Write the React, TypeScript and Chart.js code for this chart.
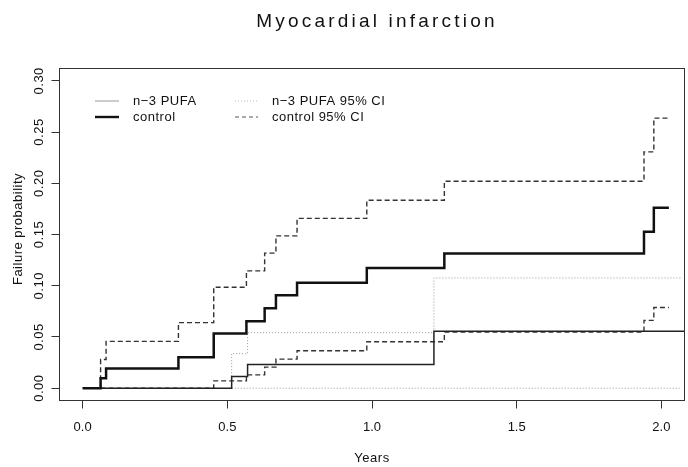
import React, { useEffect, useRef } from "react";
import { Chart, registerables } from "chart.js";

Chart.register(...registerables);

const chartTitle = "Myocardial infarction";
const xAxisTitle = "Years";
const yAxisTitle = "Failure probability";

const xTickValues = [0, 0.5, 1, 1.5, 2];
const xTickLabels = ["0.0", "0.5", "1.0", "1.5", "2.0"];
const yTickValues = [0, 0.05, 0.1, 0.15, 0.2, 0.25, 0.3];
const yTickLabels = ["0.00", "0.05", "0.10", "0.15", "0.20", "0.25", "0.30"];

const seriesNames = ["n\u22123 PUFA", "control", "n\u22123 PUFA 95% CI", "control 95% CI"];

// control (Kaplan-Meier failure curve)
const controlTimes = [0, 0.062, 0.081, 0.331, 0.453, 0.566, 0.629, 0.668, 0.741, 0.982, 1.25, 1.94, 1.974, 2.026];
const controlValues = [0, 0.0098, 0.0193, 0.0303, 0.0535, 0.0653, 0.078, 0.0907, 0.103, 0.1174, 0.1315, 0.1527, 0.1761, 0.1761];

const controlUpperTimes = [0.062, 0.062, 0.081, 0.331, 0.453, 0.566, 0.629, 0.668, 0.741, 0.982, 1.25, 1.94, 1.974, 2.026];
const controlUpperValues = [0, 0.028, 0.0457, 0.064, 0.0985, 0.1145, 0.1318, 0.1487, 0.1657, 0.1834, 0.202, 0.2306, 0.2636, 0.2636];

const controlLowerTimes = [0.062, 0.453, 0.566, 0.629, 0.668, 0.741, 0.982, 1.25, 1.94, 1.974, 2.026];
const controlLowerValues = [0, 0.0072, 0.013, 0.0206, 0.0284, 0.0366, 0.0454, 0.0548, 0.0662, 0.0787, 0.0787];

// n-3 PUFA
const pufaTimes = [0, 0.515, 0.57, 1.214, 2.08];
const pufaValues = [0, 0.0114, 0.0232, 0.0555, 0.0555];

const pufaUpperTimes = [0.515, 0.515, 0.57, 1.214, 2.069];
const pufaUpperValues = [0, 0.0337, 0.0542, 0.1076, 0.1076];

const pufaLowerTimes = [0.515, 2.069];
const pufaLowerValues = [0, 0];

const toPoints = (t: number[], v: number[]) => t.map((x, i) => ({ x, y: v[i] }));

const FONT = "'Liberation Sans', Arial, Helvetica, sans-serif";

const overlayPlugin = {
  id: "overlay",
  afterDraw(chart: any) {
    const ctx: CanvasRenderingContext2D = chart.ctx;
    const { left, right, top, bottom } = chart.chartArea;
    const ys = chart.scales.y;
    ctx.save();
    // box
    ctx.strokeStyle = "#333";
    ctx.lineWidth = 1;
    ctx.setLineDash([]);
    ctx.strokeRect(left, top, right - left, bottom - top);

    ctx.fillStyle = "#111";
    // title
    (ctx as any).letterSpacing = "3.2px";
    ctx.font = `19px ${FONT}`;
    ctx.textAlign = "center";
    ctx.textBaseline = "middle";
    ctx.fillText(chartTitle, 377, 22);

    // axis titles
    (ctx as any).letterSpacing = "0.5px";
    ctx.font = `13px ${FONT}`;
    ctx.fillText(xAxisTitle, (left + right) / 2, 458);
    ctx.save();
    ctx.translate(18, 229);
    ctx.rotate(-Math.PI / 2);
    ctx.fillText(yAxisTitle, 0, 0);
    ctx.restore();

    // y tick labels (rotated like R)
    yTickValues.forEach((v, i) => {
      const py = ys.getPixelForValue(v);
      ctx.save();
      ctx.translate(39, py);
      ctx.rotate(-Math.PI / 2);
      ctx.fillText(yTickLabels[i], 0, 0);
      ctx.restore();
    });

    // legend
    const rows = [101, 117];
    const legendItems = [
      { col: 0, row: 0, text: seriesNames[0], color: "#9a9a9a", width: 1, dash: [] as number[] },
      { col: 0, row: 1, text: seriesNames[1], color: "#111", width: 2.4, dash: [] as number[] },
      { col: 1, row: 0, text: seriesNames[2], color: "#bbb", width: 1, dash: [1, 2] },
      { col: 1, row: 1, text: seriesNames[3], color: "#555", width: 1, dash: [4, 3] },
    ];
    const cols = [
      { x0: 95, x1: 119, tx: 133 },
      { x0: 235, x1: 258, tx: 272 },
    ];
    ctx.textAlign = "left";
    legendItems.forEach((it) => {
      const c = cols[it.col];
      const y = rows[it.row];
      ctx.beginPath();
      ctx.strokeStyle = it.color;
      ctx.lineWidth = it.width;
      ctx.setLineDash(it.dash);
      ctx.moveTo(c.x0, y);
      ctx.lineTo(c.x1, y);
      ctx.stroke();
      ctx.setLineDash([]);
      ctx.fillStyle = "#111";
      ctx.fillText(it.text, c.tx, y);
    });
    ctx.restore();
  },
};

export default function App() {
  const canvasRef = useRef<HTMLCanvasElement | null>(null);

  useEffect(() => {
    if (!canvasRef.current) return;
    const chart = new Chart(canvasRef.current, {
      type: "line",
      data: {
        datasets: [
          {
            label: seriesNames[1],
            data: toPoints(controlTimes, controlValues),
            borderColor: "#111",
            borderWidth: 2.5,
            stepped: "before",
            pointRadius: 0,
            fill: false,
          },
          {
            label: seriesNames[0],
            data: toPoints(pufaTimes, pufaValues),
            borderColor: "#222",
            borderWidth: 1.5,
            stepped: "before",
            pointRadius: 0,
            fill: false,
          },
          {
            label: seriesNames[3] + " upper",
            data: toPoints(controlUpperTimes, controlUpperValues),
            borderColor: "#333",
            borderWidth: 1.4,
            borderDash: [5, 3],
            stepped: "before",
            pointRadius: 0,
            fill: false,
          },
          {
            label: seriesNames[3] + " lower",
            data: toPoints(controlLowerTimes, controlLowerValues),
            borderColor: "#333",
            borderWidth: 1.4,
            borderDash: [5, 3],
            stepped: "before",
            pointRadius: 0,
            fill: false,
          },
          {
            label: seriesNames[2] + " upper",
            data: toPoints(pufaUpperTimes, pufaUpperValues),
            borderColor: "#999",
            borderWidth: 1,
            borderDash: [1, 2],
            stepped: "before",
            pointRadius: 0,
            fill: false,
          },
          {
            label: seriesNames[2] + " lower",
            data: toPoints(pufaLowerTimes, pufaLowerValues),
            borderColor: "#999",
            borderWidth: 1,
            borderDash: [1, 2],
            stepped: "before",
            pointRadius: 0,
            fill: false,
          },
        ],
      },
      options: {
        animation: false,
        responsive: true,
        maintainAspectRatio: false,
        layout: { padding: { top: 68.5, right: 3.5, left: 0, bottom: 0 } },
        plugins: {
          legend: { display: false },
          tooltip: { enabled: false },
          title: { display: false },
        },
        scales: {
          x: {
            type: "linear",
            min: -0.08,
            max: 2.08,
            afterBuildTicks: (s: any) => {
              s.ticks = xTickValues.map((v) => ({ value: v }));
            },
            afterFit: (s: any) => {
              s.height = 66.5;
            },
            border: { display: false },
            grid: {
              display: true,
              drawOnChartArea: false,
              drawTicks: true,
              tickLength: 8,
              color: "#333",
              lineWidth: 1,
            },
            ticks: {
              autoSkip: false,
              maxRotation: 0,
              minRotation: 0,
              padding: 11,
              color: "#111",
              font: { family: FONT, size: 13 },
              callback: (_v: any, i: number) => xTickLabels[i],
            },
          },
          y: {
            type: "linear",
            min: -0.012,
            max: 0.312,
            afterBuildTicks: (s: any) => {
              s.ticks = yTickValues.map((v) => ({ value: v }));
            },
            afterFit: (s: any) => {
              s.width = 59.5;
            },
            border: { display: false },
            grid: {
              display: true,
              drawOnChartArea: false,
              drawTicks: true,
              tickLength: 8,
              color: "#333",
              lineWidth: 1,
            },
            ticks: { display: false },
          },
        },
      },
      plugins: [overlayPlugin],
    } as any);
    return () => chart.destroy();
  }, []);

  return (
    <div style={{ position: "fixed", left: 0, top: 0, width: 688, height: 467, background: "#fff" }}>
      <canvas ref={canvasRef} />
    </div>
  );
}
